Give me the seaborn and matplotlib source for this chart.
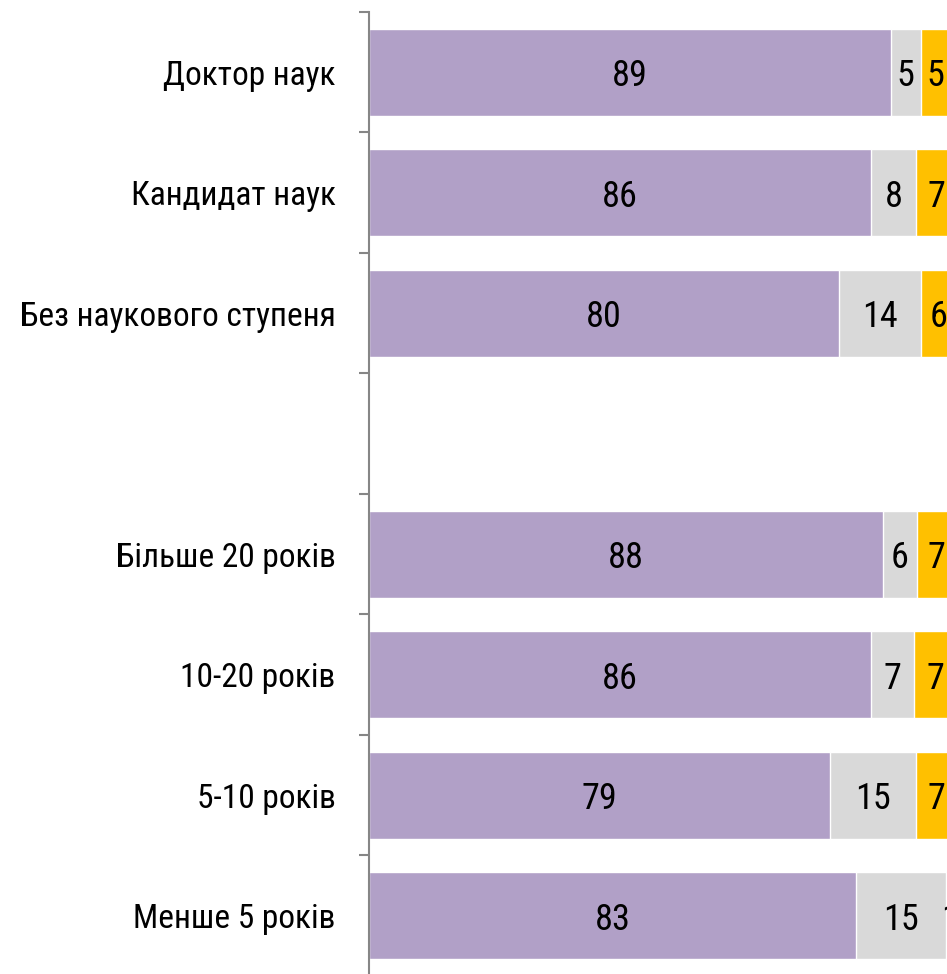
import pandas as pd
import matplotlib
matplotlib.use("Agg")
import matplotlib.pyplot as plt
import seaborn as sns

# Categories (a blank slot separates the two groups)
categories = ["Доктор наук", "Кандидат наук", "Без наукового ступеня", " ",
              "Більше 20 років", "10-20 років", "5-10 років", "Менше 5 років"]
rows = ["Доктор наук", "Кандидат наук", "Без наукового ступеня",
        "Більше 20 років", "10-20 років", "5-10 років", "Менше 5 років"]
# shares in % (labels show the rounded values)
purple_vals = [88.9, 85.5, 80.0, 87.6, 85.5, 78.6, 82.9]
gray_vals = [5.1, 7.7, 14.0, 5.7, 7.4, 14.6, 15.4]
orange_vals = [5.0, 6.8, 6.0, 6.7, 7.1, 6.8, 1.4]

PURPLE = "#B1A0C7"
GRAY = "#D9D9D9"
ORANGE = "#FFC000"
FS_VAL = 26
FS_LAB = 24

df = pd.DataFrame({"cat": rows, "a": purple_vals, "b": gray_vals, "c": orange_vals})
df["ab"] = df["a"] + df["b"]
df["abc"] = df["ab"] + df["c"]

sns.set_style("white")
plt.rcParams["font.family"] = ["Roboto Condensed", "DejaVu Sans"]
plt.rcParams["text.color"] = "black"
plt.rcParams["ytick.color"] = "black"

fig = plt.figure(figsize=(9.47, 9.74), dpi=100)
ax = fig.add_axes([0.3897, -0.002, 0.6198, 0.9897])

# stacked bars drawn as overlaid cumulative totals
for col, color in [("abc", ORANGE), ("ab", GRAY), ("a", PURPLE)]:
    sns.barplot(data=df, y="cat", x=col, order=categories, color=color,
                saturation=1, width=0.72, orient="h", ax=ax, errorbar=None)

# value labels
pos = {c: i for i, c in enumerate(categories)}
for _, r in df.iterrows():
    y = pos[r["cat"]]
    for x, v in [(r["a"] / 2, r["a"]), (r["a"] + r["b"] / 2, r["b"]), (r["ab"] + r["c"] / 2, r["c"])]:
        ax.text(x, y, f"{v:.0f}", ha="center", va="center_baseline", fontsize=FS_VAL)

ax.set_xlim(0, 100)
ax.set_ylim(len(categories) - 0.5, -0.5)
ax.set_xlabel("")
ax.set_ylabel("")
ax.set_xticks([])

for s in ["top", "right", "bottom"]:
    ax.spines[s].set_visible(False)
ax.spines["left"].set_color("#868686")
ax.spines["left"].set_linewidth(1.5)

ax.set_yticks(range(len(categories)))
ax.set_yticklabels(categories, fontsize=FS_LAB)
ax.tick_params(axis="y", which="major", left=True, length=0, pad=24)
ax.set_yticks([i + 0.5 for i in range(-1, len(categories))], minor=True)
ax.tick_params(axis="y", which="minor", left=True, length=7.5, width=1.5,
               color="#868686", direction="out")

fig.savefig("out.png", dpi=100)
